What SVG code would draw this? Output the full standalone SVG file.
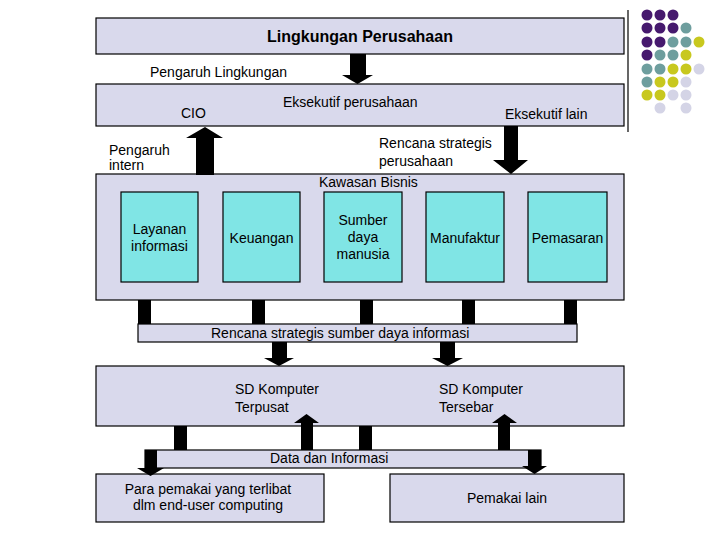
<svg xmlns="http://www.w3.org/2000/svg" width="720" height="540" viewBox="0 0 720 540">
<style>
.box{fill:#D9D9EC;stroke:#000;stroke-width:1.2}
.unit{fill:#80E5E5;stroke:#000;stroke-width:1.2}
text{font-family:"Liberation Sans",Arial,sans-serif;font-size:14px;fill:#000}
.c{text-anchor:middle}
.title{font-weight:bold;font-size:16px}
.blk{fill:#000}
.p{fill:#46196E}.t{fill:#6E9E9E}.y{fill:#C8C81E}.l{fill:#D4D4E6}
</style>
<rect width="720" height="540" fill="#fff"/>
<g id="decor">
<line x1="628" y1="10" x2="628" y2="132" stroke="#000" stroke-width="1.2"/>
<g>
<circle class="p" cx="647" cy="15" r="5.5"/><circle class="p" cx="660" cy="15" r="5.5"/><circle class="p" cx="673" cy="15" r="5.5"/>
<circle class="p" cx="647" cy="28" r="5.5"/><circle class="p" cx="660" cy="28" r="5.5"/><circle class="p" cx="673" cy="28" r="5.5"/><circle class="t" cx="686" cy="28" r="5.5"/>
<circle class="p" cx="647" cy="42" r="5.5"/><circle class="p" cx="660" cy="42" r="5.5"/><circle class="t" cx="673" cy="42" r="5.5"/><circle class="t" cx="686" cy="42" r="5.5"/><circle class="y" cx="699" cy="42" r="5.5"/>
<circle class="p" cx="647" cy="55" r="5.5"/><circle class="t" cx="660" cy="55" r="5.5"/><circle class="t" cx="673" cy="55" r="5.5"/><circle class="y" cx="686" cy="55" r="5.5"/>
<circle class="t" cx="647" cy="69" r="5.5"/><circle class="t" cx="660" cy="69" r="5.5"/><circle class="y" cx="673" cy="69" r="5.5"/><circle class="y" cx="686" cy="69" r="5.5"/><circle class="l" cx="699" cy="69" r="5.5"/>
<circle class="t" cx="647" cy="82" r="5.5"/><circle class="y" cx="660" cy="82" r="5.5"/><circle class="y" cx="673" cy="82" r="5.5"/><circle class="l" cx="686" cy="82" r="5.5"/>
<circle class="y" cx="647" cy="95" r="5.5"/><circle class="y" cx="660" cy="95" r="5.5"/><circle class="l" cx="673" cy="95" r="5.5"/><circle class="l" cx="686" cy="95" r="5.5"/>
<circle class="l" cx="660" cy="108" r="5.5"/><circle class="l" cx="686" cy="108" r="5.5"/>
</g>
</g>
<g id="lingkungan">
<rect class="box" x="96" y="18" width="528" height="36"/>
<text class="title c" x="360" y="42">Lingkungan Perusahaan</text>
</g>
<g id="eksekutif">
<rect class="box" x="96" y="84" width="528" height="42"/>
<text x="181" y="118">CIO</text>
<text x="283" y="107">Eksekutif perusahaan</text>
<text x="505" y="119">Eksekutif lain</text>
</g>
<g id="kawasan">
<rect class="box" x="96" y="174" width="528" height="126"/>
<text x="319" y="187">Kawasan Bisnis</text>
</g>
<g id="layanan">
<rect class="unit" x="121" y="192" width="77" height="90"/>
<text class="c" x="159.5" y="234">Layanan</text>
<text class="c" x="159.5" y="251">informasi</text>
</g>
<g id="keuangan">
<rect class="unit" x="223" y="192" width="77" height="90"/>
<text class="c" x="261.5" y="243">Keuangan</text>
</g>
<g id="sdm">
<rect class="unit" x="324" y="192" width="78" height="90"/>
<text class="c" x="363" y="225">Sumber</text>
<text class="c" x="363" y="242">daya</text>
<text class="c" x="363" y="259">manusia</text>
</g>
<g id="manufaktur">
<rect class="unit" x="426" y="192" width="78" height="90"/>
<text class="c" x="465" y="243">Manufaktur</text>
</g>
<g id="pemasaran">
<rect class="unit" x="528" y="192" width="79" height="90"/>
<text class="c" x="567.5" y="243">Pemasaran</text>
</g>
<g id="rencana-sdi">
<rect class="box" x="138" y="324" width="439" height="18"/>
<text x="211" y="338">Rencana strategis sumber daya informasi</text>
</g>
<g id="sd-komputer">
<rect class="box" x="96" y="366" width="528" height="60"/>
<text x="235" y="394">SD Komputer</text>
<text x="235" y="412">Terpusat</text>
<text x="439" y="394">SD Komputer</text>
<text x="439" y="412">Tersebar</text>
</g>
<g id="data-informasi">
<rect class="box" x="145" y="450" width="396" height="18"/>
<text x="270" y="463">Data dan Informasi</text>
</g>
<g id="pemakai-enduser">
<rect class="box" x="96" y="474" width="228" height="48"/>
<text class="c" x="208" y="494">Para pemakai yang terlibat</text>
<text class="c" x="208" y="510">dlm end-user computing</text>
</g>
<g id="pemakai-lain">
<rect class="box" x="390" y="474" width="234" height="48"/>
<text class="c" x="507" y="503">Pemakai lain</text>
</g>
<g id="labels">
<text x="150" y="77">Pengaruh Lingkungan</text>
<text x="109" y="155">Pengaruh</text>
<text x="109" y="170">intern</text>
<text x="379" y="148">Rencana strategis</text>
<text x="379" y="166">perusahaan</text>
</g>
<g id="connectors" class="blk">
<polygon points="350,54 366,54 366,75 373,75 357.5,84 342,75 350,75"/>
<polygon points="196,175 214,175 214,138 223,138 205,127 186,138 196,138"/>
<polygon points="504,126 518,126 518,160 528,160 511,174 493,160 504,160"/>
<rect x="138" y="300" width="13" height="24"/>
<rect x="252" y="300" width="13" height="24"/>
<rect x="360" y="300" width="13" height="24"/>
<rect x="462" y="300" width="13" height="24"/>
<rect x="564" y="300" width="13" height="24"/>
<polygon points="272,342 287,342 287,358 294,358 279,366 264,358 272,358"/>
<polygon points="440,342 455,342 455,358 463,358 447.5,366 432,358 440,358"/>
<rect x="174" y="426" width="13" height="24"/>
<rect x="359" y="426" width="13" height="24"/>
<polygon points="301,450 313,450 313,423 319,423 306.5,414 294,423 301,423"/>
<polygon points="498,450 510,450 510,423 517,423 504.5,414 492,423 498,423"/>
<polygon points="145,450 157,450 157,468 164,468 150.5,476 137,468 145,468"/>
<polygon points="528,450 541,450 541,466 547,466 534.5,474 522,466 528,466"/>
</g>
</svg>
